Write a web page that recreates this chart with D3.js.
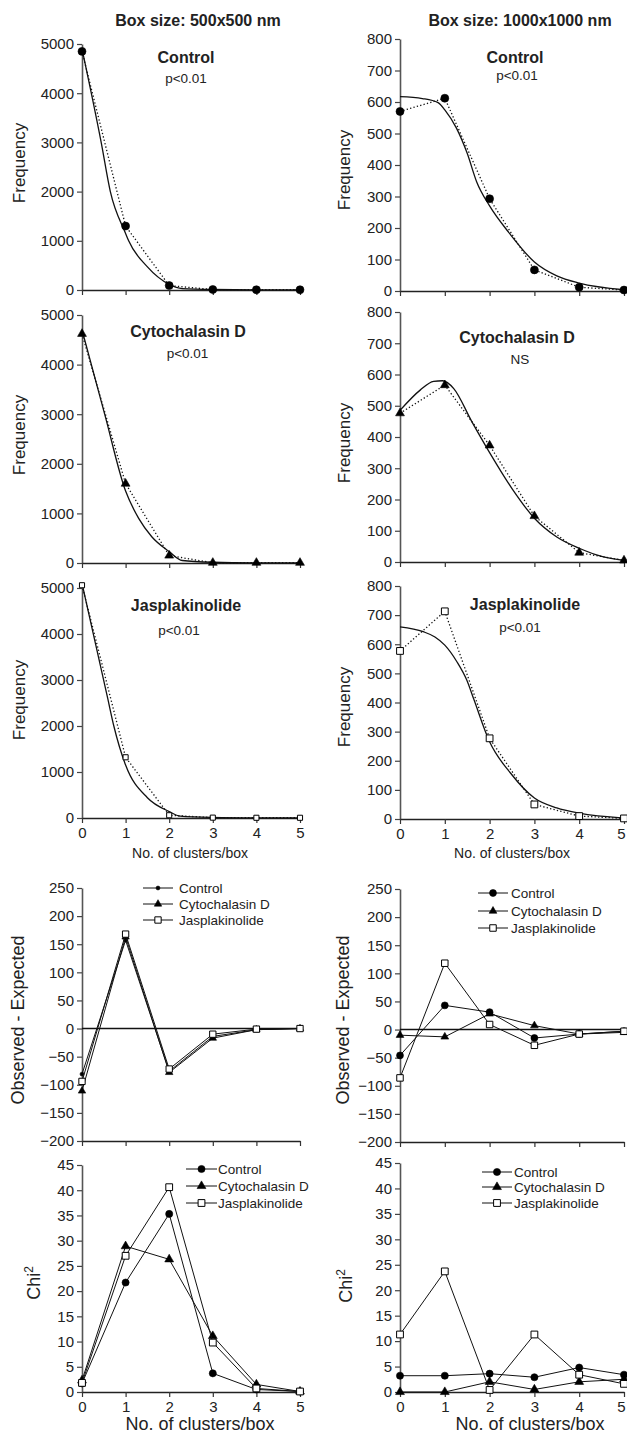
<!DOCTYPE html>
<html>
<head>
<meta charset="utf-8">
<script src="https://cdn.jsdelivr.net/npm/d3@7"></script>
<style>
body{margin:0;background:#fff;}
svg{display:block;font-family:"Liberation Sans",Arial,sans-serif;}
</style>
</head>
<body>
<div id="contents"></div>
<script>
// ---- data ----
var clusters = [0,1,2,3,4,5];
var boxSizes = ["Box size: 500x500 nm","Box size: 1000x1000 nm"];
var treatments = ["Control","Cytochalasin D","Jasplakinolide"];
var pValues500 = ["p<0.01","p<0.01","p<0.01"];
var pValues1000 = ["p<0.01","NS","p<0.01"];

var freqTicks500 = [0,1000,2000,3000,4000,5000];
var freqTicks1000 = [0,100,200,300,400,500,600,700,800];
var diffTicks = [-200,-150,-100,-50,0,50,100,150,200,250];
var chiTicks = [0,5,10,15,20,25,30,35,40,45];

// observed frequencies (dotted lines)
var obsControl500 = [4850,1300,90,10,5,5];
var obsCytoD500 = [4620,1600,150,5,5,5];
var obsJasp500 = [5060,1320,60,8,5,5];
var obsControl1000 = [570,612,293,67,12,3];
var obsCytoD1000 = [476,566,373,147,30,5];
var obsJasp1000 = [577,713,277,50,10,2];

// expected (fitted) curves, [clusters, frequency]
var expControl500 = [[0,4900],[0.44,3000],[0.65,2000],[1,1150],[1.07,1000],[1.49,480],[2,115],[2.3,30],[3,10],[4,3],[5,1]];
var expCytoD500 = [[0,4700],[0.52,3000],[1,1450],[1.3,900],[1.6,530],[2,230],[2.3,50],[3,15],[4,2],[5,0]];
var expJasp500 = [[0,5100],[0.59,2600],[0.73,2000],[1,1150],[1.5,440],[2,140],[2.25,40],[3,12],[4,2],[5,0]];
var expControl1000 = [[0,617],[0.5,611],[0.85,598],[1,575],[1.26,517],[1.5,437],[1.71,347],[2,270],[2.45,182],[3,92],[3.5,48],[4,25],[5,4]];
var expCytoD1000 = [[0,485],[0.45,550],[0.75,578],[0.95,580],[1.2,555],[1.6,450],[2,350],[2.5,235],[3,140],[3.5,80],[4,44],[4.5,18],[5,5]];
var expJasp1000 = [[0,660],[0.52,643],[0.78,625],[1,597],[1.27,540],[1.49,477],[1.65,410],[2,265],[2.47,157],[3,72],[3.5,38],[4,20],[5,3]];

// observed - expected
var diffControl500 = [-81,157,-76,-14,-2,0];
var diffCytoD500 = [-111,163,-78,-17,-2,0];
var diffJasp500 = [-94,168,-72,-10,-1,0];
var diffControl1000 = [-46,43,31,-15,-8,-3];
var diffCytoD1000 = [-10,-13,28,7,-8,-5];
var diffJasp1000 = [-86,118,9,-28,-8,-3];

// chi square
var chiControl500 = [1.7,21.7,35.3,3.7,0.5,0.1];
var chiCytoD500 = [2.3,28.9,26.3,11.1,1.5,0.1];
var chiJasp500 = [1.8,27,40.6,9.8,0.7,0.1];
var chiControl1000 = [3.2,3.2,3.6,2.9,4.8,3.4];
var chiCytoD1000 = [0,0,2.0,0.5,2.0,2.5];
var chiJasp1000 = [11.3,23.7,0.4,11.3,3.4,1.6];

// ---- layout ----
var svg = d3.select("#contents").append("svg")
		.attr("width",627)
		.attr("height",1435);

var cols = [
	{left:82, right:300, ylab:25, chilab:40, rows:[[44,290],[315,563],[588,818],[888,1141],[1165,1392]], labMid:[163,435,700,1020,1283]},
	{left:400, right:624, ylab:350, chilab:352, rows:[[39,291],[312,562],[586,819],[889,1142],[1163,1392]], labMid:[170,443,707,1020,1286]}
];
var symbols = [d3.symbolCircle, d3.symbolTriangle, d3.symbolSquare];

function marker(g, k, size, cx, cy){
	g.append("path")
		.attr("d", d3.symbol().type(symbols[k]).size(size)())
		.attr("transform","translate("+cx+","+cy+")")
		.attr("fill", k==2 ? "#fff" : "#000")
		.attr("stroke","#000")
		.attr("stroke-width", k==2 ? 1 : 0.6);
}

function axes(x, y, yTicks, xAxisY, xLabels){
	var ya = svg.append("g")
		.attr("transform","translate("+x.range()[0]+",0)")
		.call(d3.axisLeft(y).tickValues(yTicks).tickSize(5).tickSizeOuter(0).tickPadding(3).tickFormat(d3.format("d")));
	ya.attr("font-family",null).attr("font-size",null);
	ya.selectAll("text").attr("font-size","15px").attr("fill","#222");
	ya.select(".domain").attr("stroke","#555").attr("stroke-width",1.6);
	ya.selectAll(".tick line").attr("stroke","#444").attr("stroke-width",1.2);

	var xa = svg.append("g")
		.attr("transform","translate(0,"+xAxisY+")")
		.call(d3.axisBottom(x).tickValues(clusters).tickSize(5).tickSizeOuter(0).tickPadding(4)
			.tickFormat(xLabels ? d3.format("d") : ""));
	xa.attr("font-family",null).attr("font-size",null);
	xa.selectAll("text").attr("font-size","15px").attr("fill","#222")
		.attr("dx",function(d){ return x(d) > 615 ? -3 : 0; });
	xa.select(".domain").attr("stroke","#222").attr("stroke-width",1.4);
	xa.selectAll(".tick line").attr("stroke","#333").attr("stroke-width",1.2);
}

function yLabel(x, y, txt, size){
	svg.append("text")
		.attr("transform","translate("+x+","+y+") rotate(-90)")
		.attr("text-anchor","middle")
		.attr("font-size",size+"px")
		.attr("fill","#222")
		.text(txt);
}

function centered(x, y, txt, size, bold){
	svg.append("text")
		.attr("x",x).attr("y",y)
		.attr("text-anchor","middle")
		.attr("font-size",size+"px")
		.attr("font-weight",bold ? "bold" : "normal")
		.attr("fill","#222")
		.text(txt);
}

// headers
centered(198,26,boxSizes[0],16,true);
centered(520,26,boxSizes[1],16,true);

// ---- frequency panels ----
var freqSets = [
	[obsControl500, expControl500, obsControl1000, expControl1000],
	[obsCytoD500, expCytoD500, obsCytoD1000, expCytoD1000],
	[obsJasp500, expJasp500, obsJasp1000, expJasp1000]
];
var titlePos = [
	[[186,63,186,83],[515,63,517,80]],
	[[188,337,187.5,357.5],[517,343,520,364]],
	[[186,611,179,635],[525,610,520,632]]
];
var markerSize = [[50,50],[34,34],[26,46]];

freqSets.forEach(function(set, r){
	[0,1].forEach(function(c){
		var col = cols[c];
		var max = c==0 ? 5000 : 800;
		var x = d3.scaleLinear().domain([0,5]).range([col.left,col.right]);
		var y = d3.scaleLinear().domain([0,max]).range([col.rows[r][1],col.rows[r][0]]);
		axes(x, y, c==0 ? freqTicks500 : freqTicks1000, y(0), r==2);

		var obs = set[c*2], exp = set[c*2+1];
		svg.append("path")
			.datum(exp)
			.attr("d", d3.line().x(function(d){return x(d[0]);}).y(function(d){return y(d[1]);}).curve(d3.curveMonotoneX))
			.attr("fill","none").attr("stroke","#111").attr("stroke-width",1.3);
		svg.append("path")
			.datum(obs)
			.attr("d", d3.line().x(function(d,i){return x(clusters[i]);}).y(function(d){return y(d);}))
			.attr("fill","none").attr("stroke","#111").attr("stroke-width",1.3)
			.attr("stroke-dasharray","1.3,2.2");
		var g = svg.append("g");
		obs.forEach(function(v,i){ marker(g, r, markerSize[r][c], x(clusters[i]), y(v)); });

		var tp = titlePos[r][c];
		centered(tp[0],tp[1],treatments[r],16,true);
		centered(tp[2],tp[3],(c==0 ? pValues500 : pValues1000)[r],13.5,false);
		yLabel(col.ylab, col.labMid[r], "Frequency", 17);
	});
});

// x titles under the frequency panels
centered(190,858,"No. of clusters/box",14,false);
centered(512,858,"No. of clusters/box",14,false);

// ---- observed - expected and chi2 panels ----
var diffSets = [[diffControl500,diffCytoD500,diffJasp500],[diffControl1000,diffCytoD1000,diffJasp1000]];
var chiSets = [[chiControl500,chiCytoD500,chiJasp500],[chiControl1000,chiCytoD1000,chiJasp1000]];
var legendPos = [
	[[143,173,179,[888,904,920]],[478,508,511,[893,911,928]]],
	[[186,217,218,[1169,1186,1203]],[482,512,514,[1172,1187,1203]]]
];
var smallSizes = [[[12,24,40],[38,26,42]],[[40,34,46],[40,34,46]]];

function multiPanel(sets, r, c, domain, ticks, xLabels){
	var col = cols[c];
	var x = d3.scaleLinear().domain([0,5]).range([col.left,col.right]);
	var y = d3.scaleLinear().domain(domain).range([col.rows[r][1],col.rows[r][0]]);
	axes(x, y, ticks, y(domain[0]), xLabels);
	if(domain[0] < 0){
		svg.append("line")
			.attr("x1",x(0)).attr("x2",x(5))
			.attr("y1",y(0)).attr("y2",y(0))
			.attr("stroke","#111").attr("stroke-width",1.6);
	}
	var sizes = smallSizes[r-3][c];
	sets.forEach(function(vals,k){
		svg.append("path")
			.datum(vals)
			.attr("d", d3.line().x(function(d,i){return x(clusters[i]);}).y(function(d){return y(d);}))
			.attr("fill","none").attr("stroke","#111").attr("stroke-width",1);
		var g = svg.append("g");
		vals.forEach(function(v,i){ marker(g, k, sizes[k], x(clusters[i]), y(v)); });
	});
	// legend
	var lp = legendPos[r-3][c];
	treatments.forEach(function(t,k){
		var ly = lp[3][k];
		svg.append("line")
			.attr("x1",lp[0]).attr("x2",lp[1]).attr("y1",ly).attr("y2",ly)
			.attr("stroke","#111").attr("stroke-width",1);
		marker(svg, k, sizes[k], (lp[0]+lp[1])/2, ly);
		svg.append("text")
			.attr("x",lp[2]).attr("y",ly+5)
			.attr("font-size","13.5px")
			.attr("fill","#222")
			.text(t);
	});
}

[0,1].forEach(function(c){
	multiPanel(diffSets[c], 3, c, [-200,250], diffTicks, false);
	yLabel(cols[c].ylab-1, cols[c].labMid[3], "Observed - Expected", 18);
	multiPanel(chiSets[c], 4, c, [0,45], chiTicks, true);
	var t = svg.append("text")
		.attr("transform","translate("+cols[c].chilab+","+cols[c].labMid[4]+") rotate(-90)")
		.attr("text-anchor","middle")
		.attr("font-size","18px")
		.attr("fill","#222");
	t.append("tspan").text("Chi");
	t.append("tspan").attr("dy","-7").attr("font-size","12px").text("2");
});

centered(200,1430,"No. of clusters/box",18,false);
centered(530,1430,"No. of clusters/box",18,false);
</script>
</body>
</html>
